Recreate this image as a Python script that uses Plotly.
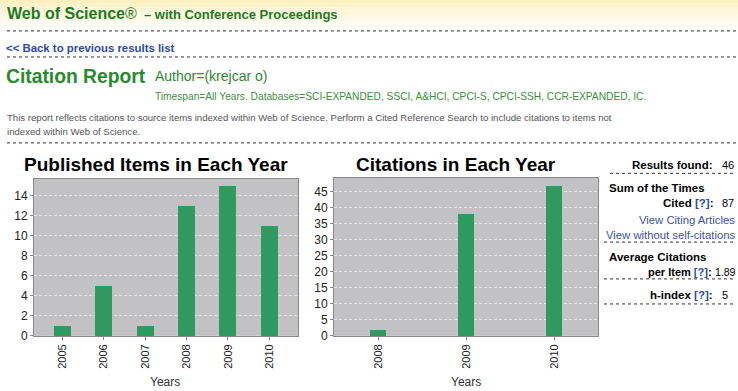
import plotly.graph_objects as go

W, H = 738, 391

pub_years = ["2005", "2006", "2007", "2008", "2009", "2010"]
pub_counts = [1, 5, 1, 13, 15, 11]
cit_years = ["2008", "2009", "2010"]
cit_counts = [2, 38, 47]

results_found = "46"
sum_cited = "87"
avg_citations = "1.89"
h_index = "5"

def px(x):
    return x / W

def py(y):
    return 1 - y / H

BAR = "#2e9a60"
PLOTBG = "#c2c1c3"
GREEN_H = "#1c7a24"
GREEN = "#2a8a2e"
GREEN_T = "#3d8f3d"
BLUE = "#2a4aa8"
LINK = "#3a55a8"
GRAY = "#555555"
FONT = "Liberation Sans, Arial, sans-serif"

fig = go.Figure()
fig.add_trace(go.Bar(x=pub_years, y=pub_counts, marker_color=BAR, marker_line_width=0,
                     width=0.41, xaxis="x", yaxis="y", showlegend=False))
fig.add_trace(go.Bar(x=cit_years, y=cit_counts, marker_color=BAR, marker_line_width=0,
                     width=0.18, xaxis="x2", yaxis="y2", showlegend=False))

axis_common = dict(showline=True, linecolor="#8a8a8a", linewidth=1, mirror=True,
                   ticks="outside", ticklen=3, tickcolor="#8a8a8a")
xfont = dict(family=FONT, size=11, color="#222")
yfont = dict(family=FONT, size=12, color="#222")
grid = dict(showgrid=True, gridcolor="#e6e6e6", griddash="3px,2px", gridwidth=1, zeroline=False)
fig.update_layout(
    width=W, height=H, margin=dict(l=0, r=0, t=0, b=0),
    paper_bgcolor="white", plot_bgcolor=PLOTBG, bargap=0,
    xaxis=dict(domain=[px(34), px(298)], anchor="y", type="category",
               range=[-0.68, 5.69], tickangle=-90, showgrid=False, tickfont=xfont, **axis_common),
    yaxis=dict(domain=[py(342), py(182)], anchor="x", range=[0, 15.67], dtick=2,
               tickfont=yfont, **grid, **axis_common),
    xaxis2=dict(domain=[px(334), px(598)], anchor="y2", type="category",
                range=[-0.5, 2.5], tickangle=-90, showgrid=False, tickfont=xfont, **axis_common),
    yaxis2=dict(domain=[py(342), py(181)], anchor="x2", range=[0, 49.4], dtick=5,
                tickfont=yfont, **grid, **axis_common),
)

shapes = []
# header gradient
top = (253, 240, 190)
bot = (255, 255, 255)
n = 16
for i in range(n):
    t = i / (n - 1)
    c = tuple(int(round(top[k] + (bot[k] - top[k]) * t)) for k in range(3))
    shapes.append(dict(type="rect", xref="paper", yref="paper", layer="below",
                       x0=0, x1=1, y0=py(31 * (i + 1) / n), y1=py(31 * i / n),
                       fillcolor="rgb(%d,%d,%d)" % c, line_width=0))

def dotted(x0, x1, y):
    shapes.append(dict(type="line", xref="paper", yref="paper", x0=px(x0), x1=px(x1),
                       y0=py(y), y1=py(y), line=dict(color="#333333", width=1, dash="dot")))

dotted(7, 738, 31.5)
dotted(7, 736, 58)
dotted(7, 738, 145.5)
dotted(610, 735, 176.5)
dotted(604, 735, 246.5)
dotted(604, 735, 284)
dotted(604, 735, 309.5)
fig.update_layout(shapes=shapes)

ann = []
def text(x, y, s, size, color="#000", anchor="left", fam=FONT):
    ann.append(dict(x=px(x), y=py(y), xref="paper", yref="paper", text=s, showarrow=False,
                    xanchor=anchor, yanchor="middle", align=anchor, borderpad=0,
                    font=dict(family=fam, size=size, color=color)))

text(6, 14, "<b>Web of Science</b>®", 16, GREEN_H)
text(143, 15, "<b>– with Conference Proceedings</b>", 13, GREEN_H)
text(5, 49, "<b>&lt;&lt; Back to previous results list</b>", 11.4, BLUE)
text(5, 78, "<b>Citation Report</b>", 19.3, GREEN)
text(154, 77.5, "Author=(krejcar o)", 14, GREEN)
text(154, 98, "Timespan=All Years. Databases=SCI-EXPANDED, SSCI, A&amp;HCI, CPCI-S, CPCI-SSH, CCR-EXPANDED, IC.", 10.2, GREEN_T)
text(6, 120, "This report reflects citations to source items indexed within Web of Science. Perform a Cited Reference Search to include citations to items not", 9.6, GRAY)
text(6, 134, "indexed within Web of Science.", 9.6, GRAY)
text(156, 167, "<b>Published Items in Each Year</b>", 19, "#000", "center")
text(456, 167, "<b>Citations in Each Year</b>", 19, "#000", "center")
text(165, 388.5, "Years", 12, "#333", "center")
text(466, 388.5, "Years", 12, "#333", "center")

q = "<span style='color:%s'>[?]</span>" % BLUE
LS = 11.5
NS = 11
text(714, 168, "<b>Results found:</b>", LS, anchor="right")
text(721, 168, results_found, NS)
text(608, 191, "<b>Sum of the Times</b>", LS)
text(714, 206.5, "<b>Cited %s:</b>" % q, LS, anchor="right")
text(721, 206.5, sum_cited, NS)
text(736, 224.5, "View Citing Articles", 11.3, LINK, "right")
text(736, 239, "View without self-citations", 11.3, LINK, "right")
text(608, 261.5, "<b>Average Citations</b>", LS)
text(713, 277, "<b>per Item %s:</b>" % q, 11, anchor="right")
text(737, 277, avg_citations, 10.5, anchor="right")
text(714, 300.5, "<b>h-index %s:</b>" % q, LS, anchor="right")
text(721, 300.5, h_index, NS)
fig.update_layout(annotations=ann)

fig.write_html("out.html")
